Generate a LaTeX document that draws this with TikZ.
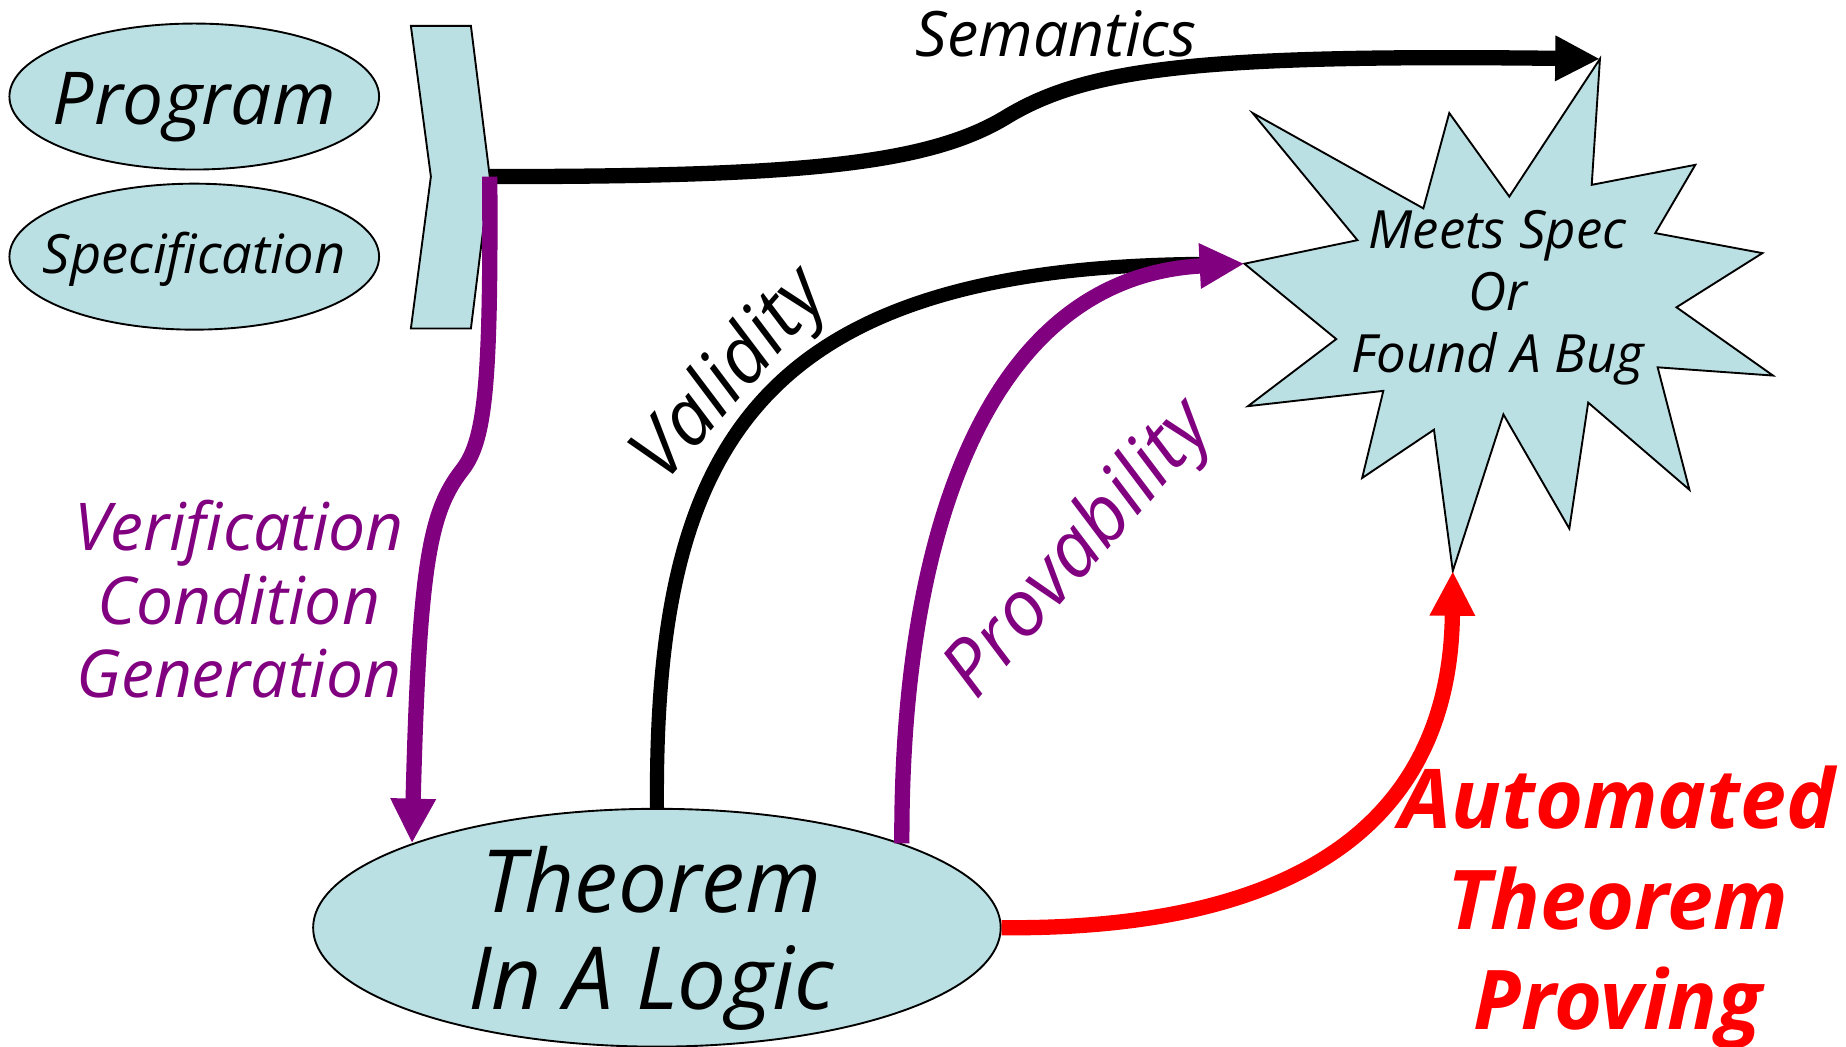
\documentclass[tikz,border=0pt]{standalone}
\usepackage{fontspec}
\setmainfont{Open Sans}
\usetikzlibrary{arrows.meta,shapes.geometric}
\definecolor{bluepale}{HTML}{BBE0E3}
\definecolor{vcpurple}{HTML}{800080}

\begin{document}
\begin{tikzpicture}[x=0.5pt,y=-0.5pt,
  blob/.style={ellipse,draw=black,fill=bluepale,line width=0.8pt,inner sep=0pt},
  txt/.style={align=center,inner sep=0pt},
  link/.style={line width=6.5pt,-{Triangle[length=19pt,width=18pt]}}]
  \useasboundingbox (0,0) rectangle (1568,889);
  % inputs
  \node[blob,minimum width=157pt,minimum height=62pt] (prog) at (165,82) {};
  \node[txt,anchor=base,font=\fontsize{31}{34}\selectfont\itshape] (progtxt) at (165,106) {Program};
  \node[blob,minimum width=157pt,minimum height=62pt] (spec) at (165,218) {};
  \node[txt,anchor=base,font=\fontsize{23}{26}\selectfont\itshape] (spectxt) at (165,232) {Specification};
  \draw[fill=bluepale,line width=0.8pt] (349,22) -- (400,22) -- (416,150) -- (400,279) -- (349,279) -- (366,150) -- cycle;
  \coordinate (brk) at (416,150);
  % the outcome
  \draw[fill=bluepale,line width=0.8pt] (1359,50) coordinate (sTop) -- (1352,157) -- (1440,140) -- (1406,198)
    -- (1497,215) -- (1424,261) -- (1506,319) -- (1408,312) -- (1435,416) -- (1349,342)
    -- (1333,449) -- (1277,352) -- (1234,485) coordinate (sBot) -- (1218,365) -- (1157,406)
    -- (1175,332) -- (1060,345) -- (1135,288) -- (1057,224) coordinate (sLeft) -- (1153,204)
    -- (1064,96) -- (1209,177) -- (1231,96) -- (1282,167) -- cycle;
  \node[txt,font=\fontsize{22.4}{26.25}\selectfont\itshape] (bug) at (1272,253) {Meets Spec\\Or\\Found A Bug};
  % theorem
  \node[blob,minimum width=292pt,minimum height=101pt] (thm) at (558,788) {};
  \node[txt,font=\fontsize{37}{41}\selectfont\itshape] (thmtxt) at (553,797) {Theorem\\In A Logic};
  % arrows
  \draw[link] (brk) .. controls (680,150) and (790,140) .. (857,98) .. controls (925,58) and (1020,46) .. (sTop);
  \draw[link,vcpurple] (brk) .. controls (417,330) and (412,375) .. (392,400) .. controls (365,435) and (356,480) .. (thm.161);
  \draw[line width=6pt,shorten >=14pt] (thm.north) .. controls (556,380) and (640,225) .. (sLeft);
  \draw[link,vcpurple] (thm.19) .. controls (765,450) and (840,235) .. (sLeft);
  \draw[link,red] (thm.east) .. controls (1100,790) and (1232,700) .. (sBot);
  % labels
  \node[txt,anchor=base,font=\fontsize{26.6}{30}\selectfont\itshape] (sem) at (897,48) {Semantics};
  \node[txt,text=vcpurple,font=\fontsize{28}{31.25}\selectfont\itshape] (vc) at (203,509) {Verification\\Condition\\Generation};
  \node[txt,rotate=49,font=\fontsize{33}{36}\selectfont\itshape] (valid) at (622,320) {Validity};
  \node[txt,rotate=49,text=vcpurple,font=\fontsize{33}{36}\selectfont\itshape] (prov) at (918,468) {Provability};
  \node[txt,text=red,font=\fontsize{35}{42.75}\selectfont\bfseries\itshape] (atp) at (1374,771) {Automated\\Theorem\\Proving};
\end{tikzpicture}
\end{document}
